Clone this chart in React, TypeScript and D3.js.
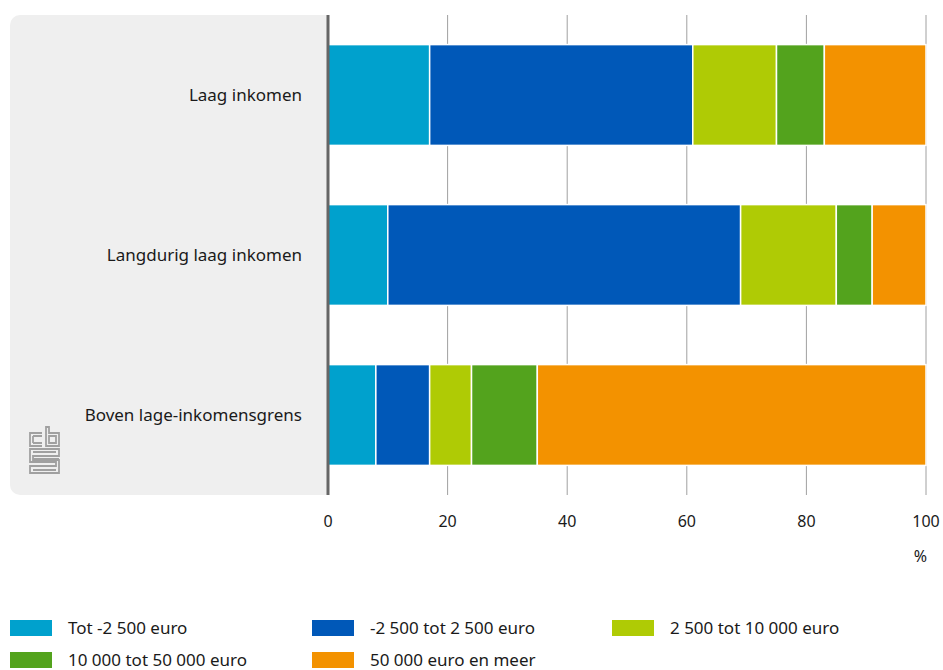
import { useEffect, useRef } from 'react';
import * as d3 from 'd3';

// data
const categories = ['Laag inkomen', 'Langdurig laag inkomen', 'Boven lage-inkomensgrens'];
const seriesNames = [
  'Tot -2 500 euro',
  '-2 500 tot 2 500 euro',
  '2 500 tot 10 000 euro',
  '10 000 tot 50 000 euro',
  '50 000 euro en meer',
];
const seriesColors = ['#00a1cd', '#0058b8', '#afcb05', '#53a31d', '#f39200'];
const values = [
  [17, 44, 14, 8, 17],
  [10, 59, 16, 6, 9],
  [8, 9, 7, 11, 65],
];
const ticks = [0, 20, 40, 60, 80, 100];

const FONT = '"Noto Sans", "DejaVu Sans", sans-serif';

export default function App() {
  const svgRef = useRef<SVGSVGElement>(null);

  useEffect(() => {
    document.body.style.margin = '0';
    if (!svgRef.current) return;
    const svg = d3.select(svgRef.current);
    svg.selectAll('*').remove();

    const plotTop = 15;
    const plotBottom = 495;

    const x = d3.scaleLinear().domain([0, 100]).range([328, 926]);
    const y = d3.scaleBand().domain(categories).range([plotTop, plotBottom]).paddingInner(0.37).paddingOuter(0.185);

    // grey label panel
    svg.append('rect')
      .attr('x', 10).attr('y', plotTop)
      .attr('width', 340).attr('height', plotBottom - plotTop)
      .attr('rx', 10)
      .attr('fill', '#efefef');
    svg.append('rect')
      .attr('x', 327).attr('y', plotTop)
      .attr('width', 30).attr('height', plotBottom - plotTop)
      .attr('fill', '#ffffff');

    // gridlines
    svg.append('g')
      .selectAll('line')
      .data(ticks.slice(1))
      .enter()
      .append('line')
      .attr('x1', d => x(d)).attr('x2', d => x(d))
      .attr('y1', plotTop).attr('y2', plotBottom)
      .attr('stroke', '#a0a0a0')
      .attr('stroke-width', 1);

    // stacked bars
    const rows = values.map((vals, i) => {
      let acc = 0;
      return vals.map((v, j) => {
        const seg = { cat: categories[i], j, x0: acc, x1: acc + v };
        acc += v;
        return seg;
      });
    });

    svg.append('g')
      .selectAll('rect')
      .data(rows.flat())
      .enter()
      .append('rect')
      .attr('x', d => x(d.x0))
      .attr('width', d => x(d.x1) - x(d.x0))
      .attr('y', d => y(d.cat) as number)
      .attr('height', y.bandwidth())
      .attr('fill', d => seriesColors[d.j])
      .attr('stroke', '#ffffff')
      .attr('stroke-width', 1.5);

    // axis line
    svg.append('line')
      .attr('x1', x(0)).attr('x2', x(0))
      .attr('y1', plotTop).attr('y2', plotBottom)
      .attr('stroke', '#666666')
      .attr('stroke-width', 3);

    // category labels
    svg.append('g')
      .selectAll('text')
      .data(categories)
      .enter()
      .append('text')
      .attr('x', 302)
      .attr('y', d => (y(d) as number) + y.bandwidth() / 2)
      .attr('dy', '0.35em')
      .attr('text-anchor', 'end')
      .attr('font-family', FONT)
      .attr('font-size', 17)
      .attr('fill', '#1a1a1a')
      .text(d => d);

    // tick labels
    svg.append('g')
      .selectAll('text')
      .data(ticks)
      .enter()
      .append('text')
      .attr('x', d => x(d))
      .attr('y', 527)
      .attr('text-anchor', 'middle')
      .attr('font-family', FONT)
      .attr('font-size', 16)
      .attr('fill', '#1a1a1a')
      .text(d => d);

    svg.append('text')
      .attr('x', x(100) + 1)
      .attr('y', 562)
      .attr('text-anchor', 'end')
      .attr('font-family', FONT)
      .attr('font-size', 16)
      .attr('fill', '#1a1a1a')
      .text('%');

    // cbs logo (approximation)
    const logo = svg.append('g')
      .attr('transform', 'translate(29, 427)')
      .attr('fill', 'none')
      .attr('stroke', '#a0a0a0')
      .attr('stroke-width', 1.8);
    logo.append('path').attr('d', 'M13,6 H1 V19 H13 M4,9 H13 M4,16 H13 M4,9 V16');
    logo.append('path').attr('d', 'M17,0 V19 H30 V6 H20 V0 Z M20,9 H27 V16 H20 Z');
    logo.append('path').attr('d', 'M30,22 H1 V35 H27 V39 H1 V46 H30 V33 H4 V29 H30 Z M4,25 H27 M4,32 H30 M4,43 H27');

    // legend
    const legendCols = [10, 312, 612];
    const legend = svg.append('g');
    seriesNames.forEach((name, i) => {
      const col = i % 3;
      const row = Math.floor(i / 3);
      const g = legend.append('g')
        .attr('transform', `translate(${legendCols[col]}, ${620 + row * 32})`);
      g.append('rect')
        .attr('width', 42).attr('height', 16)
        .attr('fill', seriesColors[i]);
      g.append('text')
        .attr('x', 58).attr('y', 8)
        .attr('dy', '0.35em')
        .attr('font-family', FONT)
        .attr('font-size', 17)
        .attr('fill', '#1a1a1a')
        .text(name);
    });
  }, []);

  return <svg ref={svgRef} width={943} height={670} style={{ display: 'block' }} />;
}
